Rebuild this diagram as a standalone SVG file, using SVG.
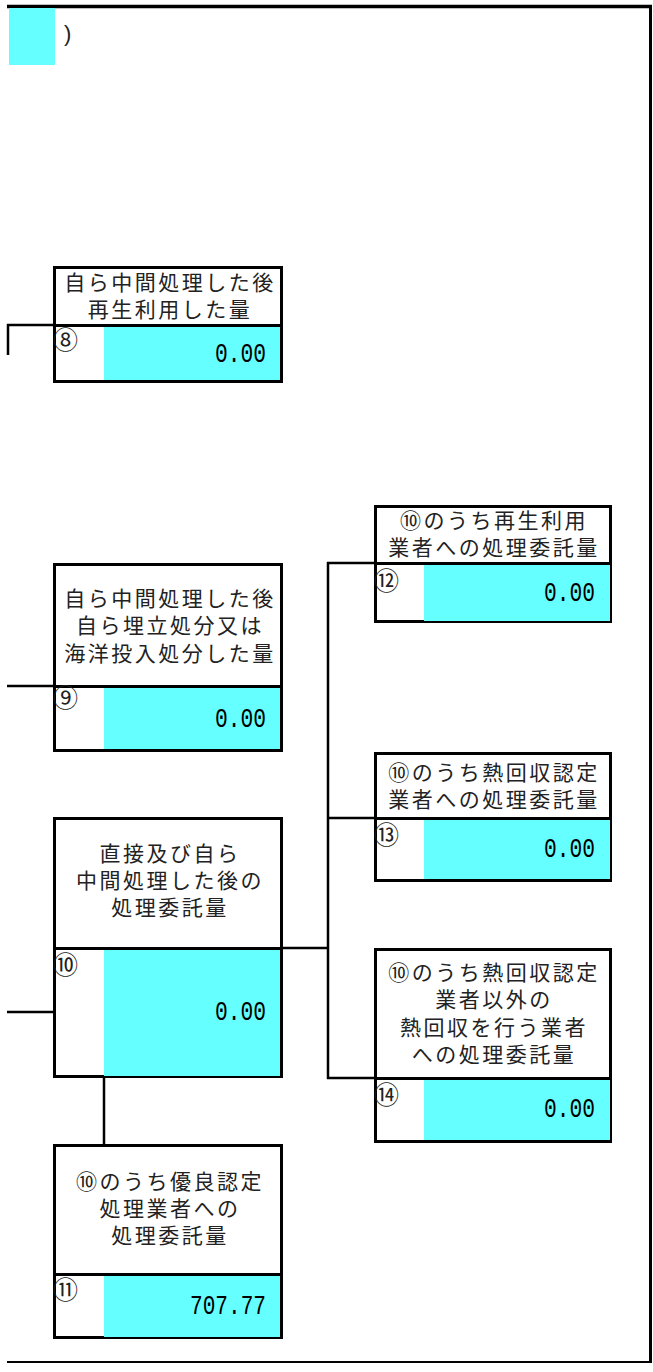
<svg xmlns="http://www.w3.org/2000/svg" width="653" height="1372" viewBox="0 0 653 1372">
<style>
.box{fill:#fff;stroke:#000;stroke-width:3}
.val{fill:#66ffff;stroke:none}
.div{stroke:#000;stroke-width:3}
.con{stroke:#000;stroke-width:2.5;fill:none}
.lab{font-family:"Noto Sans CJK JP",sans-serif;font-size:21px;fill:#222;text-anchor:middle;letter-spacing:2.5px}
.num{font-family:"Liberation Mono",monospace;font-size:27px;fill:#000;text-anchor:end}
.cir{font-family:"Noto Sans CJK JP",sans-serif;font-size:25px;fill:#222}
</style>
<g id="frame">
<line x1="7" y1="6.5" x2="652" y2="6.5" stroke="#000" stroke-width="3.5"/>
<line x1="650.5" y1="5" x2="650.5" y2="1362" stroke="#000" stroke-width="3"/>
<line x1="7" y1="1362" x2="652" y2="1362" stroke="#000" stroke-width="2"/>
<rect x="9" y="8" width="46" height="57" fill="#66ffff"/>
<text x="64" y="41" font-family="Liberation Sans,sans-serif" font-size="22" fill="#222">)</text>
</g>
<g id="connectors">
<polyline class="con" points="8,355 8,325 53,325"/>
<line class="con" x1="7" y1="686" x2="53" y2="686"/>
<line class="con" x1="7" y1="1012" x2="53" y2="1012"/>
<line class="con" x1="104" y1="1078" x2="104" y2="1144"/>
<line class="con" x1="283" y1="948" x2="328" y2="948"/>
<line class="con" x1="328" y1="562" x2="328" y2="1079"/>
<line class="con" x1="327" y1="563" x2="374" y2="563"/>
<line class="con" x1="327" y1="818" x2="374" y2="818"/>
<line class="con" x1="327" y1="1078" x2="374" y2="1078"/>
</g>
<g id="node8">
<rect class="box" x="54.5" y="267.5" width="227" height="114"/>
<rect class="val" x="104" y="326" width="176" height="54"/>
<line class="div" x1="54" y1="325.5" x2="282" y2="325.5"/>
<text class="lab" x="170" y="290">自ら中間処理した後</text>
<text class="lab" x="170" y="317">再生利用した量</text>
<text class="cir" x="53" y="349">⑧</text>
<text class="num" x="266" y="362" textLength="51" lengthAdjust="spacingAndGlyphs">0.00</text>
</g>
<g id="node9">
<rect class="box" x="54.5" y="564.5" width="227" height="186"/>
<rect class="val" x="104" y="688" width="176" height="61"/>
<line class="div" x1="54" y1="686.5" x2="282" y2="686.5"/>
<text class="lab" x="170" y="606">自ら中間処理した後</text>
<text class="lab" x="170" y="633">自ら埋立処分又は</text>
<text class="lab" x="170" y="661">海洋投入処分した量</text>
<text class="cir" x="53" y="707">⑨</text>
<text class="num" x="266" y="727" textLength="51" lengthAdjust="spacingAndGlyphs">0.00</text>
</g>
<g id="node10">
<rect class="box" x="54.5" y="818.5" width="227" height="258"/>
<rect class="val" x="104" y="950" width="176" height="126"/>
<line class="div" x1="54" y1="948.5" x2="282" y2="948.5"/>
<text class="lab" x="170" y="861">直接及び自ら</text>
<text class="lab" x="170" y="888">中間処理した後の</text>
<text class="lab" x="170" y="915">処理委託量</text>
<text class="cir" x="53" y="974">⑩</text>
<text class="num" x="266" y="1020" textLength="51" lengthAdjust="spacingAndGlyphs">0.00</text>
</g>
<g id="node11">
<rect class="box" x="54.5" y="1145.5" width="227" height="192"/>
<rect class="val" x="104" y="1276" width="176" height="61"/>
<line class="div" x1="54" y1="1274.5" x2="282" y2="1274.5"/>
<text class="lab" x="170" y="1189">⑩のうち優良認定</text>
<text class="lab" x="170" y="1216">処理業者への</text>
<text class="lab" x="170" y="1243">処理委託量</text>
<text class="cir" x="53" y="1299">⑪</text>
<text class="num" x="266" y="1314" textLength="76" lengthAdjust="spacingAndGlyphs">707.77</text>
</g>
<g id="node12">
<rect class="box" x="375.5" y="506.5" width="235" height="115"/>
<rect class="val" x="424" y="565" width="186" height="56"/>
<line class="div" x1="375" y1="563.5" x2="610" y2="563.5"/>
<text class="lab" x="494" y="528">⑩のうち再生利用</text>
<text class="lab" x="494" y="555">業者への処理委託量</text>
<text class="cir" x="374" y="590">⑫</text>
<text class="num" x="595" y="601" textLength="51" lengthAdjust="spacingAndGlyphs">0.00</text>
</g>
<g id="node13">
<rect class="box" x="375.5" y="753.5" width="235" height="127"/>
<rect class="val" x="424" y="820" width="186" height="59"/>
<line class="div" x1="375" y1="818.5" x2="610" y2="818.5"/>
<text class="lab" x="494" y="780">⑩のうち熱回収認定</text>
<text class="lab" x="494" y="807">業者への処理委託量</text>
<text class="cir" x="374" y="844">⑬</text>
<text class="num" x="595" y="857" textLength="51" lengthAdjust="spacingAndGlyphs">0.00</text>
</g>
<g id="node14">
<rect class="box" x="375.5" y="949.5" width="235" height="192"/>
<rect class="val" x="424" y="1080" width="186" height="60"/>
<line class="div" x1="375" y1="1078.5" x2="610" y2="1078.5"/>
<text class="lab" x="494" y="980">⑩のうち熱回収認定</text>
<text class="lab" x="494" y="1007">業者以外の</text>
<text class="lab" x="494" y="1035">熱回収を行う業者</text>
<text class="lab" x="494" y="1062">への処理委託量</text>
<text class="cir" x="374" y="1104">⑭</text>
<text class="num" x="595" y="1117" textLength="51" lengthAdjust="spacingAndGlyphs">0.00</text>
</g>
</svg>
